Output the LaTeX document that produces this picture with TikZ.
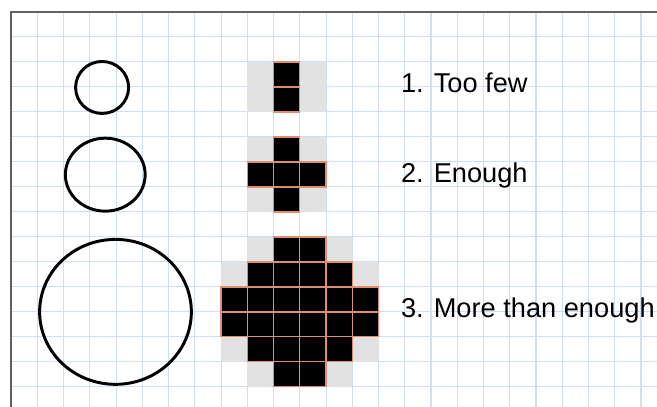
\documentclass[tikz,border=0pt]{standalone}
\usepackage{fontspec}
\setmainfont{Liberation Sans}
\definecolor{gridblue}{RGB}{208,224,242}
\definecolor{framegray}{RGB}{96,96,96}
\definecolor{cellgray}{RGB}{226,226,226}
\definecolor{cellrim}{RGB}{226,140,112}

\begin{document}
\begin{tikzpicture}[x=1cm, y=-0.952cm,
        ring/.style={draw=black, line width=3.2pt},
        graycell/.style={fill=cellgray},
        blackcell/.style={fill=black, draw=cellrim, line width=1.4pt},
        caption/.style={anchor=base west, inner sep=0pt, font=\fontsize{29.5}{34}\selectfont}
    ]
    \useasboundingbox (-0.42,-0.48) rectangle (24.61,15.8);
    \fill[white] (-0.42,-0.48) rectangle (24.61,15.8);

    % squared paper
    \foreach \i in {1,...,24} \draw[gridblue, line width=1.1pt] (\i,0) -- (\i,15.8);
    \foreach \j in {1,...,15} \draw[gridblue, line width=1.1pt] (0,\j) -- (24.61,\j);
    \draw[framegray, line width=2pt] (0,15.8) -- (0,0) -- (24.61,0);

    % circles
    \draw[ring] (3.47,3.02) ellipse [x radius=1.01, y radius=1.04];
    \draw[ring] (3.59,6.51) ellipse [x radius=1.52, y radius=1.46];
    \draw[ring] (3.98,12.0) ellipse [x radius=2.89, y radius=2.90];

    % grey cells around the pixels
    \foreach \c/\r in {9/2,11/2,9/3,11/3,
                       9/5,11/5,9/7,11/7,
                       9/9,12/9,8/10,13/10,8/13,13/13,9/14,12/14}
        \fill[graycell] (\c,\r) rectangle ++(1,1);

    % black pixels, row / first / last column
    \foreach \r/\first/\last in {2/10/10,3/10/10,
                                 5/10/10,6/9/11,7/10/10,
                                 9/10/11,10/9/12,11/8/13,12/8/13,13/9/12,14/10/11}
        \foreach \c in {\first,...,\last}
            \draw[blackcell] (\c,\r) rectangle ++(1,1);

    \node[caption] (toofew) at (14.85,3.24) {1. Too few};
    \node[caption] (enough) at (14.85,6.84) {2. Enough};
    \node[caption] (morethan) at (14.85,12.24) {3. More than enough};

\end{tikzpicture}
\end{document}
